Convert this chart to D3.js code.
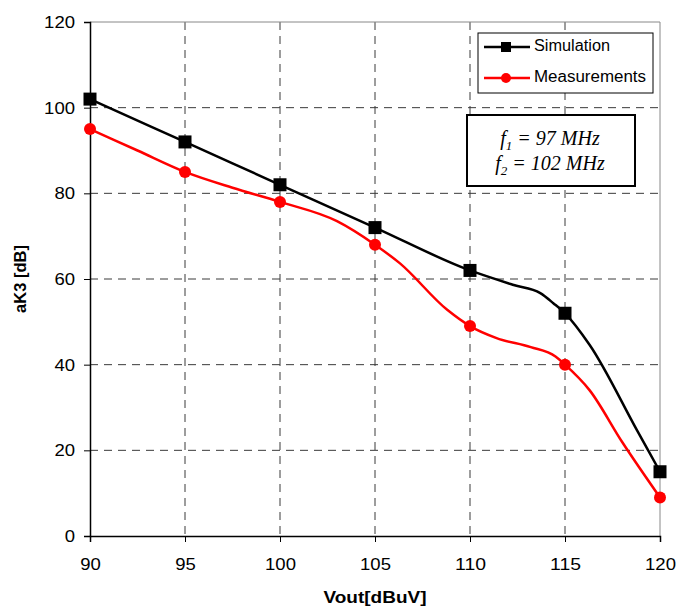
<!DOCTYPE html>
<html>
<head>
<meta charset="utf-8">
<script src="https://d3js.org/d3.v7.min.js"></script>
<style>
  body { margin: 0; background: #fff; }
  text { font-family: "Liberation Sans", Arial, sans-serif; fill: #000; }
  .grid line { stroke: #3a3a3a; stroke-dasharray: 8 6; stroke-width: 1; }
</style>
</head>
<body>
<script>
// data
var simX = [90, 95, 100, 105, 110, 112.3, 113.7, 114.4, 115, 116.3, 118.8, 120];
var simY = [102, 92, 82, 72, 62, 58.6, 56.7, 54.3, 52, 44.6, 24.6, 15];
var measX = [90, 92.5, 95, 97.5, 100, 103, 105, 106.3, 108.8, 110, 111.4, 113.2, 114.5, 115, 116.3, 118, 120];
var measY = [95, 90, 85, 81.3, 78, 73.5, 68, 63.7, 52.8, 49, 46.2, 44.1, 41.9, 40, 34, 22, 9];
var markerX = [90, 95, 100, 105, 110, 115, 120];
var xTicks = [90, 95, 100, 105, 110, 115, 120];
var yTicks = [0, 20, 40, 60, 80, 100, 120];

var W = 678, H = 614;
var m = {left: 90, right: 18, top: 22, bottom: 78};

var svg = d3.select("body").append("svg").attr("width", W).attr("height", H);

var x = d3.scaleLinear().domain([90, 120]).range([m.left, W - m.right]);
var y = d3.scaleLinear().domain([0, 120]).range([H - m.bottom, m.top]);

// grid
var grid = svg.append("g").attr("class", "grid");
grid.selectAll(".gx").data(xTicks.slice(1, -1)).enter().append("line")
  .attr("x1", d => x(d)).attr("x2", d => x(d)).attr("y1", y(120)).attr("y2", y(0));
grid.selectAll(".gy").data(yTicks.slice(1, -1)).enter().append("line")
  .attr("x1", x(90)).attr("x2", x(120)).attr("y1", d => y(d)).attr("y2", d => y(d));

// plot frame (top/right gray)
svg.append("line").attr("x1", x(90)).attr("x2", x(120)).attr("y1", y(120)).attr("y2", y(120)).attr("stroke", "#888");
svg.append("line").attr("x1", x(120)).attr("x2", x(120)).attr("y1", y(120)).attr("y2", y(0)).attr("stroke", "#888");

// axes
var xAxis = svg.append("g").attr("transform", "translate(0," + y(0) + ")")
  .call(d3.axisBottom(x).tickValues(xTicks).tickSize(6).tickPadding(16));
var yAxis = svg.append("g").attr("transform", "translate(" + x(90) + ",0)")
  .call(d3.axisLeft(y).tickValues(yTicks).tickSize(6).tickPadding(9));
[xAxis, yAxis].forEach(function(a) {
  a.select(".domain").attr("stroke", "#000").attr("stroke-width", 1.5);
  a.selectAll(".tick line").attr("stroke", "#000");
  a.selectAll(".tick text")
    .style("font-size", "17px").style("font-family", "Liberation Sans, Arial, sans-serif")
    .attr("textLength", d => String(d).length * 10.3).attr("lengthAdjust", "spacingAndGlyphs");
});

// axis titles
svg.append("text").attr("x", (x(90) + x(120)) / 2).attr("y", 603).attr("text-anchor", "middle")
  .style("font-size", "16.5px").style("font-weight", "bold")
  .attr("textLength", 103).attr("lengthAdjust", "spacingAndGlyphs").text("Vout[dBuV]");
svg.append("text").attr("transform", "translate(22," + ((y(0) + y(120)) / 2) + ") rotate(-90)")
  .attr("text-anchor", "middle").attr("dominant-baseline", "middle")
  .style("font-size", "16.5px").style("font-weight", "bold").text("aK3 [dB]");

// lines
var line = d3.line().x(d => x(d[0])).y(d => y(d[1])).curve(d3.curveMonotoneX);
var sim = simX.map((v, i) => [v, simY[i]]);
var meas = measX.map((v, i) => [v, measY[i]]);

svg.append("path").datum(meas).attr("d", line).attr("fill", "none").attr("stroke", "#ff0000").attr("stroke-width", 2.5);
svg.append("path").datum(sim).attr("d", line).attr("fill", "none").attr("stroke", "#000").attr("stroke-width", 2.5);

var measMarks = meas.filter(d => markerX.indexOf(d[0]) >= 0);
var simMarks = sim.filter(d => markerX.indexOf(d[0]) >= 0);
svg.selectAll(".mc").data(measMarks).enter().append("circle")
  .attr("cx", d => x(d[0])).attr("cy", d => y(d[1])).attr("r", 6).attr("fill", "#ff0000");
svg.selectAll(".ms").data(simMarks).enter().append("rect")
  .attr("x", d => x(d[0]) - 6.5).attr("y", d => y(d[1]) - 6.5).attr("width", 13).attr("height", 13).attr("fill", "#000");

// legend
var lg = svg.append("g");
lg.append("rect").attr("x", 478).attr("y", 33).attr("width", 175).attr("height", 60)
  .attr("fill", "#fff").attr("stroke", "#000").attr("stroke-width", 1);
lg.append("line").attr("x1", 484).attr("x2", 530).attr("y1", 47).attr("y2", 47).attr("stroke", "#000").attr("stroke-width", 2.5);
lg.append("rect").attr("x", 501).attr("y", 42).attr("width", 10).attr("height", 10).attr("fill", "#000");
lg.append("line").attr("x1", 484).attr("x2", 530).attr("y1", 78).attr("y2", 78).attr("stroke", "#f00").attr("stroke-width", 2.5);
lg.append("circle").attr("cx", 506).attr("cy", 78).attr("r", 5).attr("fill", "#f00");
lg.append("text").attr("x", 534).attr("y", 47).attr("dominant-baseline", "middle").style("font-size", "16px")
  .attr("textLength", 76).attr("lengthAdjust", "spacingAndGlyphs").text("Simulation");
lg.append("text").attr("x", 534).attr("y", 78).attr("dominant-baseline", "middle").style("font-size", "16px")
  .attr("textLength", 112).attr("lengthAdjust", "spacingAndGlyphs").text("Measurements");

// frequency note
var nb = svg.append("g");
nb.append("rect").attr("x", 467).attr("y", 115).attr("width", 168).attr("height", 71)
  .attr("fill", "#fff").attr("stroke", "#000").attr("stroke-width", 2);
function note(yy, sub, rest) {
  var t = nb.append("text").attr("x", 550).attr("y", yy).attr("text-anchor", "middle")
    .style("font-family", "Liberation Serif, Times New Roman, serif").style("font-style", "italic").style("font-size", "20px");
  t.append("tspan").text("f");
  t.append("tspan").attr("dy", 5).style("font-size", "13px").text(sub);
  t.append("tspan").attr("dy", -5).text(rest);
}
note(145, "1", " = 97 MHz");
note(170, "2", " = 102 MHz");
</script>
</body>
</html>
